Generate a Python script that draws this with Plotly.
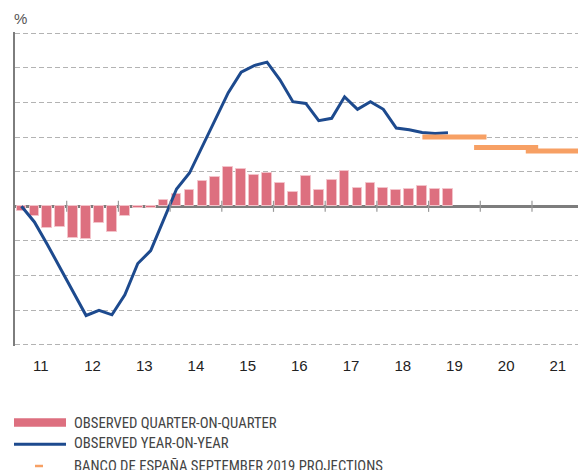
import plotly.graph_objects as go

# ---------------- data ----------------
start_year = 2011
# Observed quarter-on-quarter GDP growth (%), 2011Q1 .. 2019Q2
qoq = [-0.13, -0.27, -0.62, -0.60, -0.92, -0.94, -0.47, -0.74,
       -0.29, -0.05, -0.04, 0.17, 0.37, 0.46, 0.74, 0.85,
       1.14, 1.07, 0.90, 0.96, 0.67, 0.42, 0.87, 0.47,
       0.75, 1.02, 0.54, 0.67, 0.54, 0.47, 0.51, 0.59,
       0.51, 0.49]
# Observed year-on-year GDP growth (%), 2011Q1 .. 2019Q2
yoy = [0.0, -0.45, -1.1, -1.78, -2.5, -3.15, -3.0, -3.13,
       -2.55, -1.65, -1.28, -0.38, 0.5, 0.96, 1.72, 2.5,
       3.28, 3.87, 4.06, 4.16, 3.65, 3.02, 2.97, 2.47,
       2.54, 3.16, 2.8, 3.02, 2.8, 2.26, 2.21, 2.13,
       2.1, 2.12]
# Banco de España September 2019 projections (annual, %)
proj_years = [2019, 2020, 2021]
proj_values = [2.0, 1.7, 1.6]
# x-axis year labels
year_labels = ["11", "12", "13", "14", "15", "16", "17", "18", "19", "20", "21"]

# ---------------- styling ----------------
PINK = "#dd6f7f"
PINK_EDGE = "#f3c3ca"
BLUE = "#1d4a8e"
ORANGE = "#f7a064"
AXIS_GREY = "#7d7d7d"
GRID_GREY = "#b3b3b3"
W, H = 578, 470
M_L, M_R, M_T, M_B = 15, 0, 32, 124
X_RANGE = [2011, 2021.89]
Y_RANGE = [-4.03, 5.03]
PROJ_HALF = 0.62
TICK_HALF = 0.16

quarter_x = [start_year + (i + 0.5) / 4 for i in range(len(qoq))]
years = [start_year + k for k in range(len(year_labels))]
year_centres = [y + 0.5 for y in years]

proj_x, proj_y = [], []
for yr, v in zip(proj_years, proj_values):
    proj_x += [yr + 0.5 - PROJ_HALF, yr + 0.5 + PROJ_HALF, None]
    proj_y += [v, v, None]

fig = go.Figure()
fig.add_trace(go.Bar(
    x=quarter_x, y=qoq, width=0.188, name="OBSERVED QUARTER-ON-QUARTER",
    marker=dict(color=PINK, line=dict(color=PINK_EDGE, width=1)),
    showlegend=False,
))
fig.add_trace(go.Scatter(
    x=quarter_x, y=yoy, mode="lines", name="OBSERVED YEAR-ON-YEAR",
    line=dict(color=BLUE, width=3), showlegend=False,
))
fig.add_trace(go.Scatter(
    x=proj_x, y=proj_y, mode="lines",
    name="BANCO DE ESPAÑA SEPTEMBER 2019 PROJECTIONS",
    line=dict(color=ORANGE, width=5), showlegend=False,
))

# year-boundary tick marks crossing the zero line
shapes = []
for yr in years[1:]:
    shapes.append(dict(type="line", xref="x", yref="y", x0=yr, x1=yr,
                       y0=-TICK_HALF, y1=TICK_HALF,
                       line=dict(color="#9a9a9a", width=1.2), layer="above"))

# manual legend (pixel positions converted to paper coords)
plot_w = W - M_L - M_R
plot_h = H - M_T - M_B


def px(xp):
    return (xp - M_L) / plot_w


def py(yp):
    return (H - M_B - yp) / plot_h


shapes.append(dict(type="rect", xref="paper", yref="paper",
                   x0=px(14), x1=px(66), y0=py(426.7), y1=py(418.3),
                   fillcolor=PINK, line=dict(width=0)))
shapes.append(dict(type="line", xref="paper", yref="paper",
                   x0=px(14), x1=px(66), y0=py(444.2), y1=py(444.2),
                   line=dict(color=BLUE, width=3)))
shapes.append(dict(type="line", xref="paper", yref="paper",
                   x0=px(35), x1=px(43), y0=py(466), y1=py(466),
                   line=dict(color=ORANGE, width=2.5)))

legend_font = dict(family="Liberation Sans Narrow, Arial Narrow, Roboto Condensed, Liberation Sans, Arial, sans-serif",
                   size=14.7, color="#444444")
annotations = []
for txt, ypx in [("OBSERVED QUARTER-ON-QUARTER", 422.5),
                 ("OBSERVED YEAR-ON-YEAR", 443.5),
                 ("BANCO DE ESPAÑA SEPTEMBER 2019 PROJECTIONS", 465.5)]:
    annotations.append(dict(text=txt, xref="paper", yref="paper",
                            x=px(72), y=py(ypx), xanchor="left", yanchor="middle",
                            showarrow=False, font=legend_font))
annotations.append(dict(text="%", xref="paper", yref="paper",
                        x=px(20), y=py(18), xanchor="center", yanchor="middle",
                        showarrow=False,
                        font=dict(family="Liberation Sans, Arial, sans-serif",
                                  size=15, color="#555555")))

fig.update_layout(
    width=W, height=H,
    margin=dict(l=M_L, r=M_R, t=M_T, b=M_B),
    plot_bgcolor="white", paper_bgcolor="white",
    showlegend=False,
    bargap=0,
    shapes=shapes,
    annotations=annotations,
    font=dict(family="Liberation Sans, Arial, sans-serif"),
    xaxis=dict(range=X_RANGE, showgrid=False, zeroline=False, showline=False,
               tickmode="array", tickvals=year_centres, ticktext=year_labels,
               ticks="", ticklabelstandoff=9,
               tickfont=dict(size=15, color="#222222")),
    yaxis=dict(range=Y_RANGE, dtick=1, tick0=0, showticklabels=False, ticks="",
               showline=True, linecolor=AXIS_GREY, linewidth=1.5,
               showgrid=True, gridcolor=GRID_GREY, gridwidth=1, griddash="5px,3px",
               zeroline=True, zerolinecolor=AXIS_GREY, zerolinewidth=2.5),
)

fig.write_html("out.html", config={"displayModeBar": False},
               post_script="document.body.style.margin='0';document.body.style.overflow='hidden';")
